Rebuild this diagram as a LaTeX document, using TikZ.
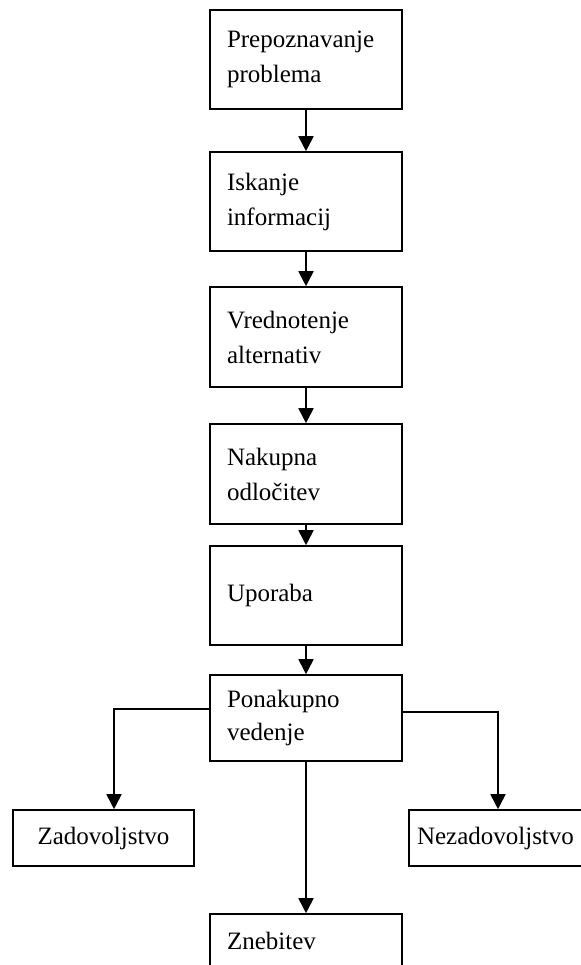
\documentclass[tikz,border=0pt]{standalone}
\usepackage{fontspec}
\setmainfont{Liberation Serif}
\usetikzlibrary{arrows.meta}
\begin{document}
\begin{tikzpicture}[x=0.5pt,y=-0.5pt,
  box/.style={draw=black, line width=0.8pt, rectangle, inner sep=0pt,
    font=\fontsize{12.5pt}{17.5pt}\selectfont},
  mainbox/.style={box, minimum width=96pt, text width=79pt, align=left, inner xsep=8.5pt},
  arr/.style={draw=black, line width=0.9pt, -{Triangle[width=7.5pt,length=7.5pt]}}]
\useasboundingbox (0,0) rectangle (580,965);
\node[mainbox, minimum height=49.5pt] (a) at (306,59.5) {Prepoznavanje\\problema};
\node[mainbox, minimum height=49.5pt] (b) at (306,201.5) {Iskanje\\informacij};
\node[mainbox, minimum height=50pt] (c) at (306,337) {Vrednotenje\\alternativ};
\node[mainbox, minimum height=50pt] (d) at (306,474) {Nakupna\\odločitev};
\node[mainbox, minimum height=49.5pt] (e) at (306,595.5) {Uporaba};
\node[mainbox, minimum height=43pt, font=\fontsize{12.5pt}{16.5pt}\selectfont] (f) at (306,718) {Ponakupno\\vedenje};
\node[box, minimum width=90.5pt, minimum height=28pt, align=center] (z) at (103.5,838) {Zadovoljstvo};
\node[box, minimum width=90.5pt, minimum height=28pt, text width=82.5pt, inner xsep=4pt, align=left] (n) at (499.5,838) {Nezadovoljstvo};
\node[mainbox, minimum height=43pt, font=\fontsize{12.5pt}{16.5pt}\selectfont] (g) at (306,957) {Znebitev\\\mbox{}};
\coordinate (lc) at (114,709);
\coordinate (rc) at (498,712);
\draw[arr] (a) -- (b);
\draw[arr] (b) -- (c);
\draw[arr] (c) -- (d);
\draw[arr] (d) -- (e);
\draw[arr] (e) -- (f);
\draw[arr] (f) -- (g);
\draw[arr] (f.west |- lc) -- (lc) -- (lc |- z.north);
\draw[arr] (f.east |- rc) -- (rc) -- (rc |- n.north);
\end{tikzpicture}
\end{document}
